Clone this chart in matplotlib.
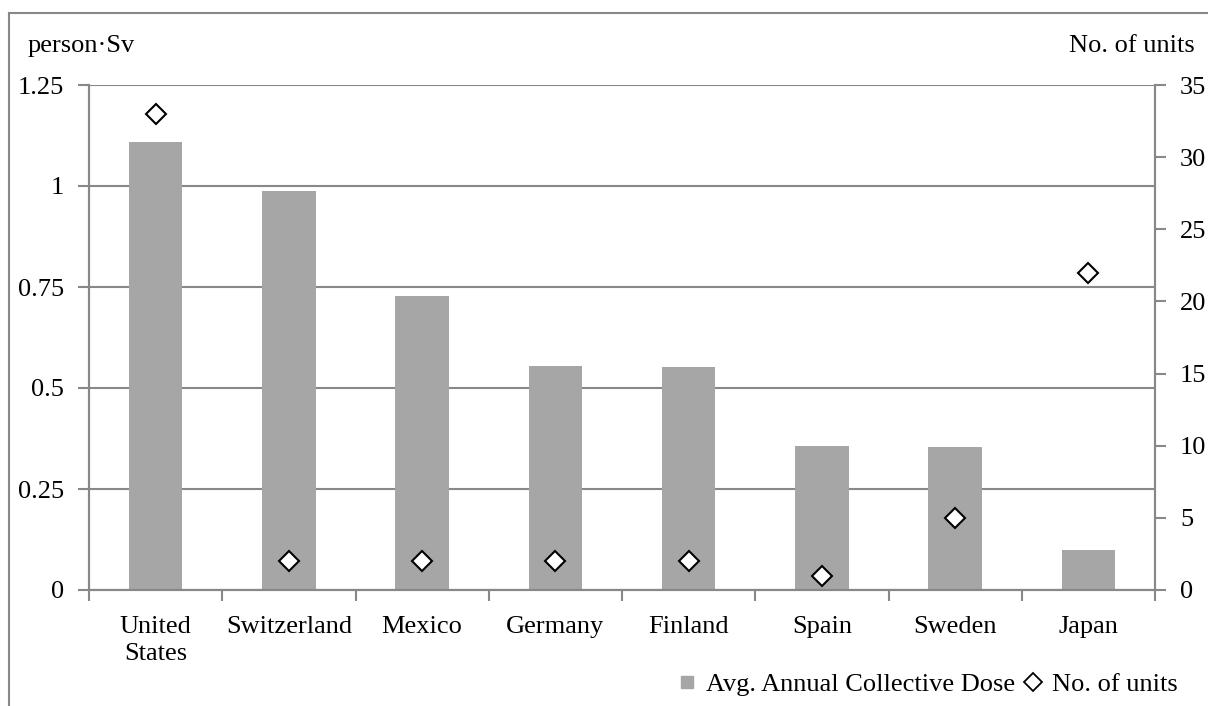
import matplotlib
matplotlib.use("Agg")
import matplotlib.pyplot as plt
from matplotlib.lines import Line2D
import numpy as np

countries = ["United\nStates", "Switzerland", "Mexico", "Germany", "Finland",
             "Spain", "Sweden", "Japan"]
avg_dose = [1.109, 0.987, 0.727, 0.554, 0.551, 0.356, 0.355, 0.098]
num_units = [33, 2, 2, 2, 2, 1, 5, 22]
left_ticks = [0, 0.25, 0.5, 0.75, 1, 1.25]
left_tick_labels = ["0", "0.25", "0.5", "0.75", "1", "1.25"]
right_ticks = [0, 5, 10, 15, 20, 25, 30, 35]

plt.rcParams["font.family"] = ["Liberation Serif", "DejaVu Serif"]
FS = 19
GRID = "#888888"
BAR = "#a6a6a6"

fig = plt.figure(figsize=(12.08, 7.06), dpi=100)
ax = fig.add_axes([89 / 1208, 116 / 706, 1066 / 1208, 505 / 706])
ax2 = ax.twinx()

x = np.arange(len(countries))
ax.bar(x, avg_dose, width=0.4, color=BAR, zorder=2)
ax2.plot(x, num_units, linestyle="none", marker="D", markersize=10.5,
         markerfacecolor="white", markeredgecolor="black", markeredgewidth=1.5,
         zorder=3)

ax.set_xlim(-0.5, len(countries) - 0.5)
ax.set_ylim(0, 1.25)
ax2.set_ylim(0, 35)

ax.set_yticks(left_ticks)
ax.set_yticklabels(left_tick_labels, fontsize=FS)
ax2.set_yticks(right_ticks)
ax2.set_yticklabels([str(v) for v in right_ticks], fontsize=FS)

ax.set_xticks(x)
ax.set_xticklabels(countries, fontsize=FS, linespacing=1.3)
ax.set_xticks(np.arange(len(countries) + 1) - 0.5, minor=True)
ax.tick_params(axis="x", which="major", length=0, pad=19)
ax.tick_params(axis="x", which="minor", length=8, width=1.5, color=GRID,
               direction="out")
ax.tick_params(axis="y", length=8, width=1.5, color=GRID, direction="out", pad=10)
ax2.tick_params(axis="y", length=8, width=1.5, color=GRID, direction="out", pad=10)

ax.yaxis.grid(True, color=GRID, linewidth=1.5, zorder=0)
ax.set_axisbelow(True)

for a in (ax, ax2):
    a.spines["top"].set_visible(False)
    for side in ("left", "right", "bottom"):
        a.spines[side].set_color(GRID)
        a.spines[side].set_linewidth(1.5)

fig.text(28 / 1208, 1 - 46 / 706, "person\u00b7Sv", fontsize=FS, va="center", ha="left")
fig.text(1195 / 1208, 1 - 46 / 706, "No. of units", fontsize=FS, va="center", ha="right")

handles = [
    Line2D([], [], linestyle="none", marker="s", markersize=8, color=BAR),
    Line2D([], [], linestyle="none", marker="D", markersize=9,
           markerfacecolor="white", markeredgecolor="black", markeredgewidth=1.3),
]
fig.legend(handles, ["Avg. Annual Collective Dose", "No. of units"],
           loc="center right", bbox_to_anchor=(1188 / 1208, 1 - 684 / 706),
           ncol=2, frameon=False, fontsize=FS, handlelength=0.8,
           handletextpad=0.3, columnspacing=0.3, borderaxespad=0)

# outer chart frame
fig.add_artist(Line2D([9 / 1208, 1], [1 - 12.5 / 706, 1 - 12.5 / 706],
                      transform=fig.transFigure, color=GRID, linewidth=1.5))
fig.add_artist(Line2D([9 / 1208, 9 / 1208], [0, 1 - 12.5 / 706],
                      transform=fig.transFigure, color=GRID, linewidth=1.5))

fig.savefig("out.png", dpi=100)
